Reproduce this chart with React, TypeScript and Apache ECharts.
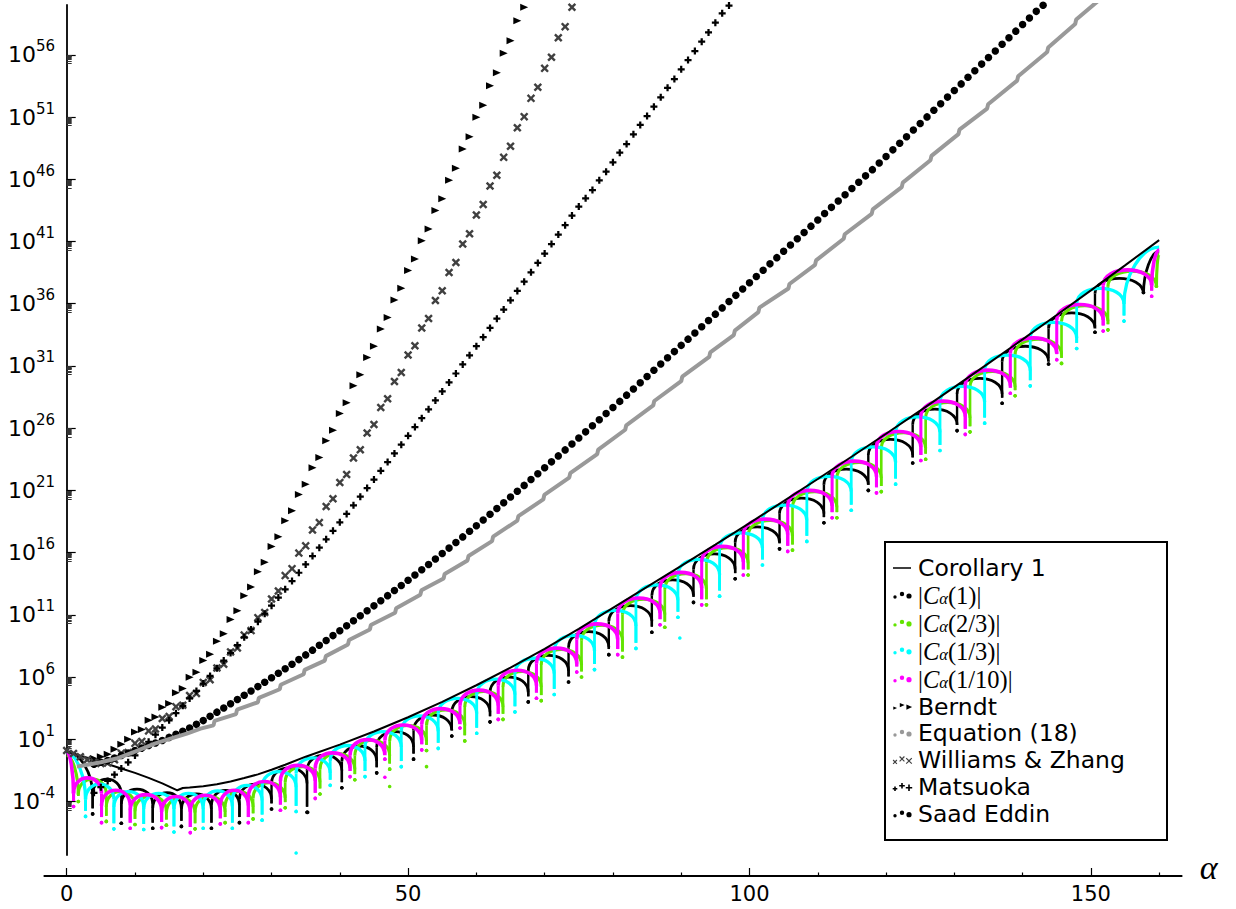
import React, { useEffect, useRef } from "react";
import * as echarts from "echarts";

// ---------------- axes ----------------
const X_MIN = -3.28;
const X_MAX = 163.3;
const Y_MIN = -8.3; // log10 exponent at bottom of y axis
const Y_MAX = 60; // log10 exponent at top
const ALPHA_END = 160;

const xMajorTicks = [0, 50, 100, 150];
const xMinorTicks = [10, 20, 30, 40, 60, 70, 80, 90, 110, 120, 130, 140, 160];
const yMajorTicks = [-4, 1, 6, 11, 16, 21, 26, 31, 36, 41, 46, 51, 56];
const yMinorFactors = [2, 3, 4, 5, 6, 7, 8, 9];

// ---------------- Corollary 1 (alpha, log10 value) ----------------
const corollaryAlpha = [0, 4, 8, 10, 12, 14, 16.2, 17, 18, 20, 22, 24, 26, 28, 30, 32, 35, 40, 45, 50, 55, 60, 65, 70, 75, 80, 85, 90, 95, 100, 105, 110, 115, 120, 125, 130, 135, 140, 145, 150, 155, 160];
const corollaryLog = [0.0, -0.65, -1.35, -1.7, -2.1, -2.55, -3.1, -2.92, -2.88, -2.78, -2.62, -2.4, -2.12, -1.82, -1.45, -1.05, -0.4, 0.57, 1.62, 2.77, 4.01, 5.34, 6.76, 8.27, 9.87, 11.56, 13.25, 14.93, 16.64, 18.37, 20.13, 21.91, 23.72, 25.55, 27.41, 29.29, 31.2, 33.13, 35.09, 37.07, 39.08, 41.11];

// ---------------- |C_alpha(x)| : zeros (dips), lowest dots, arch peaks ----------------
// |C_alpha(1)| black
const c1Start = 0.0;
const c1Dips = [3.8, 8.0, 12.6, 16.8, 21.2, 25.3, 30.0, 35.2, 40.3, 45.4, 50.8, 56.4, 62.0, 67.6, 73.5, 79.4, 85.7, 91.8, 97.9, 104.4, 110.9, 117.4, 123.9, 130.4, 137.0, 143.8, 150.6, 157.7];
const c1Bottoms = [-5.0, -5.75, -6.15, -6.0, -6.15, -5.7, -4.6, -4.87, -2.9, -1.7, -0.6, 1.26, 2.4, 4.0, 5.6, 7.8, 9.6, 12.0, 13.9, 16.3, 18.4, 21.0, 23.2, 25.8, 28.0, 31.15, 33.7, 36.9];
const c1Peaks = [-2.2, -3.0, -3.3, -3.4, -3.1, -2.6, -1.3, -0.28, 0.46, 1.62, 2.95, 4.42, 6.0, 7.74, 9.65, 11.73, 13.81, 15.89, 18.07, 20.37, 22.71, 25.09, 27.52, 30.0, 32.58, 35.26, 38.04];
const c1End = 40.2;

// |C_alpha(2/3)| green
const c23Start = -0.3;
const c23Dips = [1.7, 5.8, 10.0, 14.6, 18.8, 23.2, 27.3, 32.0, 37.1, 42.2, 47.3, 52.7, 58.3, 63.9, 69.5, 75.4, 81.4, 87.6, 93.7, 99.8, 106.3, 112.8, 119.3, 125.8, 132.3, 138.9, 145.7, 152.5, 159.6];
const c23Bottoms = [-4.0, -5.6, -5.85, -5.9, -6.2, -5.7, -5.4, -4.5, -3.4, -2.25, -1.4, 0.1, 0.87, 2.6, 4.1, 6.0, 7.6, 10.0, 11.8, 14.2, 16.2, 18.8, 20.9, 23.5, 25.7, 28.6, 31.2, 33.9, 37.4];
const c23Peaks = [-2.2, -3.2, -3.55, -3.7, -3.6, -3.2, -2.5, -1.2, -0.15, 0.92, 2.1, 3.36, 4.85, 6.45, 8.22, 10.17, 12.25, 14.31, 16.4, 18.59, 20.9, 23.25, 25.63, 28.07, 30.56, 33.15, 35.83, 38.62];
const c23End = 40.0;

// |C_alpha(1/3)| cyan
const c13Start = -0.1;
const c13Dips = [2.76, 6.91, 11.28, 15.71, 19.99, 24.26, 28.62, 33.6, 38.59, 43.69, 49.0, 54.41, 60.05, 65.65, 71.4, 77.3, 83.37, 89.52, 95.62, 101.9, 108.4, 114.9, 121.4, 127.9, 134.44, 141.12, 147.92, 154.85];
const c13Bottoms = [-5.2, -6.2, -6.25, -6.45, -6.15, -6.15, -5.5, -4.8, -2.7, -2.0, -1.2, 0.27, 1.48, 3.2, 4.6, 6.6, 8.3, 10.8, 12.5, 15.0, 16.9, 19.4, 21.5, 24.2, 26.4, 29.4, 32.4, 34.6];
const c13Peaks = [-2.6, -3.2, -3.35, -3.35, -3.15, -2.7, -1.6, -0.49, 0.5, 1.62, 2.88, 4.29, 5.83, 7.51, 9.35, 11.36, 13.4, 15.46, 17.59, 19.82, 22.13, 24.49, 26.9, 29.35, 31.87, 34.5, 37.23];
const c13End = 40.55;

// |C_alpha(1/10)| magenta
const c110Start = 0.0;
const c110Dips = [1.0, 5.1, 9.3, 13.9, 18.1, 22.5, 26.6, 31.3, 36.4, 41.5, 46.6, 52.0, 57.6, 63.2, 68.8, 74.7, 80.7, 86.9, 93.0, 99.1, 105.6, 112.1, 118.6, 125.1, 131.6, 138.2, 145.0, 151.8, 158.9];
const c110Bottoms = [-4.4, -5.7, -6.15, -6.1, -6.5, -5.8, -5.7, -4.7, -3.75, -2.0, -0.6, 0.15, 1.9, 2.6, 4.3, 6.4, 7.8, 10.2, 11.8, 14.2, 16.1, 18.8, 20.8, 23.4, 25.5, 28.8, 31.5, 33.8, 36.6];
const c110Peaks = [-2.1, -3.1, -3.45, -3.6, -3.5, -3.1, -2.4, -1.1, -0.09, 0.97, 2.15, 3.46, 4.95, 6.55, 8.32, 10.27, 12.35, 14.41, 16.5, 18.69, 21.0, 23.35, 25.73, 28.17, 30.66, 33.25, 35.93, 38.72];
const c110End = 40.3;

// isolated far-off dots (alpha, log10)
const c1Stray = [[35.3, -4.87]];
const c23Stray = [[47.3, -2.8], [52.7, -1.2]];
const c13Stray = [[33.6, -8.14], [89.8, 9.14]];
const c110Stray = [[46.6, -2.05]];

// ---------------- bounds sampled at integer alpha ----------------
const berndtFirstAlpha = 4;
const berndtLog = [-0.55, -0.4, -0.2, 0.2, 0.6, 1.0, 1.58, 1.78, 2.53, 2.78, 3.58, 3.88, 4.73, 5.08, 5.98, 6.38, 7.33, 7.83, 8.88, 9.48, 10.63, 11.33, 12.53, 13.24, 14.47, 15.22, 16.49, 17.27, 18.56, 19.36, 20.67, 21.49, 22.81, 23.64, 24.98, 25.83, 27.18, 28.04, 29.41, 30.29, 31.68, 32.57, 33.97, 34.88, 36.3, 37.23, 38.66, 39.6, 41.05, 42.01, 43.48, 44.44, 45.91, 46.88, 48.43, 49.42, 50.98, 51.94, 53.52, 54.56, 56.12, 57.13, 58.74, 59.82];

const wzFirstAlpha = 0;
const wzLog = [0.1, -0.15, -0.4, -0.65, -0.85, -0.95, -0.9, -0.65, -0.13, -0.07, 0.67, 0.83, 1.67, 1.83, 2.67, 2.83, 3.62, 3.73, 4.52, 4.68, 5.57, 5.78, 6.72, 7.03, 8.02, 8.33, 9.37, 9.73, 10.77, 11.18, 12.27, 12.91, 14.15, 14.71, 15.96, 16.54, 17.81, 18.41, 19.7, 20.32, 21.63, 22.27, 23.6, 24.26, 25.61, 26.29, 27.66, 28.36, 29.75, 30.47, 31.88, 32.62, 34.05, 34.81, 36.26, 37.04, 38.51, 39.31, 40.8, 41.62, 43.13, 43.97, 45.46, 46.32, 47.76, 48.65, 50.14, 51.03, 52.5, 53.39, 54.91, 55.8, 57.37, 58.26, 59.82];

const matsuokaFirstAlpha = 4;
const matsuokaLog = [-3.3, -2.85, -2.35, -1.85, -1.35, -0.85, -0.3, 0.25, 0.8, 1.37, 1.94, 2.52, 3.1, 3.69, 4.28, 4.88, 5.48, 6.09, 6.7, 7.32, 7.94, 8.56, 9.19, 9.82, 10.45, 11.09, 11.73, 12.39, 13.05, 13.71, 14.38, 15.05, 15.72, 16.39, 17.07, 17.75, 18.43, 19.11, 19.8, 20.49, 21.18, 21.87, 22.57, 23.27, 23.97, 24.67, 25.38, 26.09, 26.8, 27.51, 28.23, 28.95, 29.67, 30.39, 31.12, 31.85, 32.58, 33.31, 34.05, 34.79, 35.53, 36.27, 37.02, 37.77, 38.52, 39.27, 40.03, 40.79, 41.55, 42.31, 43.08, 43.8, 44.47, 45.13, 45.91, 46.61, 47.36, 48.13, 48.83, 49.61, 50.36, 51.08, 51.83, 52.58, 53.35, 54.05, 54.83, 55.58, 56.3, 57.05, 57.8, 58.58, 59.33, 59.95];

const saadFirstAlpha = 4;
const saadLog = [-1.0, -0.85, -0.7, -0.5, -0.3, -0.1, 0.1, 0.3, 0.5, 0.7, 0.9, 1.15, 1.4, 1.65, 1.9, 2.2, 2.5, 2.84, 3.18, 3.51, 3.85, 4.19, 4.53, 4.88, 5.23, 5.58, 5.94, 6.3, 6.66, 7.03, 7.4, 7.78, 8.16, 8.55, 8.94, 9.33, 9.72, 10.12, 10.52, 10.92, 11.32, 11.72, 12.13, 12.54, 12.95, 13.36, 13.78, 14.2, 14.62, 15.04, 15.48, 15.92, 16.36, 16.81, 17.26, 17.71, 18.16, 18.62, 19.08, 19.54, 20.0, 20.46, 20.93, 21.4, 21.87, 22.34, 22.81, 23.29, 23.77, 24.25, 24.73, 25.21, 25.7, 26.19, 26.68, 27.17, 27.66, 28.15, 28.65, 29.15, 29.65, 30.15, 30.65, 31.15, 31.65, 32.15, 32.65, 33.15, 33.65, 34.15, 34.65, 35.16, 35.66, 36.17, 36.67, 37.18, 37.68, 38.19, 38.69, 39.2, 39.7, 40.21, 40.71, 41.22, 41.72, 42.23, 42.73, 43.24, 43.74, 44.25, 44.75, 45.26, 45.76, 46.27, 46.77, 47.3, 47.83, 48.36, 48.89, 49.42, 49.95, 50.48, 51.01, 51.54, 52.07, 52.6, 53.13, 53.66, 54.19, 54.72, 55.25, 55.78, 56.31, 56.84, 57.37, 57.9, 58.43, 58.96, 59.49, 59.98];

// Equation (18): dense samples, read as a stepped curve
const eq18Alpha = [1.5, 3, 5, 7.3, 10, 12.9, 15.2, 17.6, 19.6, 21.5, 21.65, 24.8, 24.95, 28.0, 28.15, 31.2, 31.35, 34.7, 34.85, 37.8, 37.95, 41.2, 41.35, 44.4, 44.55, 48.1, 48.25, 51.8, 51.95, 55.2, 55.35, 58.7, 58.85, 62.3, 62.45, 66.0, 66.15, 69.8, 69.95, 73.6, 73.75, 77.7, 77.85, 81.8, 81.95, 85.9, 86.05, 90.0, 90.15, 94.1, 94.25, 97.7, 97.85, 101.3, 101.45, 105.7, 105.85, 109.6, 109.75, 113.8, 113.95, 117.9, 118.05, 122.3, 122.45, 126.5, 126.65, 130.6, 130.75, 134.8, 134.95, 139.2, 139.35, 143.6, 143.75, 147.7, 147.85, 151.9];
const eq18Log = [-1.2, -1.05, -0.85, -0.55, 0.0, 0.65, 1.05, 1.45, 1.85, 2.12, 2.48, 3.02, 3.38, 3.97, 4.33, 5.02, 5.38, 6.22, 6.58, 7.32, 7.68, 8.62, 8.98, 9.82, 10.18, 11.17, 11.53, 12.62, 12.98, 13.92, 14.28, 15.37, 15.73, 16.92, 17.28, 18.57, 18.93, 20.27, 20.63, 22.02, 22.38, 23.92, 24.28, 25.87, 26.23, 27.82, 28.18, 29.77, 30.13, 31.72, 32.08, 33.47, 33.83, 35.32, 35.68, 37.22, 37.58, 39.12, 39.48, 41.22, 41.58, 43.22, 43.58, 45.37, 45.73, 47.52, 47.88, 49.62, 49.98, 51.67, 52.03, 53.92, 54.28, 56.22, 56.58, 58.47, 58.83, 60.72];

// ---------------- colours ----------------
const BLACK = "#000000";
const GREEN = "#62e400";
const CYAN = "#00ffff";
const MAGENTA = "#ff00ff";
const GRAY = "#999999";
const DARKGRAY = "#404040";

// ---------------- helpers ----------------
const ARCH_DROP = 1.25;
const DOT_GAP = 0.45;

function intSeries(first: number, vals: number[]) {
  return vals.map((v, i) => [first + i, v]);
}
function pairs(a: number[], v: number[]) {
  return a.map((x, i) => [x, v[i]]);
}
function archItems(start: number, dips: number[], bottoms: number[], peaks: number[], end: number) {
  const items: number[][] = [];
  items.push([0, dips[0], start, 0, bottoms[0], 1, peaks[0]]);
  for (let i = 0; i < dips.length - 1; i++) {
    items.push([dips[i], dips[i + 1], peaks[i], bottoms[i], bottoms[i + 1], 0, 0]);
  }
  const n = dips.length;
  items.push([dips[n - 1], ALPHA_END, end, bottoms[n - 1], 0, 2, peaks[peaks.length - 1]]);
  return items;
}
function archRenderer(color: string, lw: number) {
  return (_params: any, api: any) => {
    const d0 = api.value(0), d1 = api.value(1), p = api.value(2);
    const b0 = api.value(3), b1 = api.value(4), kind = api.value(5), nb = api.value(6);
    const c = (a: number, v: number) => api.coord([a, v]);
    const kids: any[] = [];
    const st = { stroke: color, lineWidth: lw, fill: "none" };
    let leftTop = p - ARCH_DROP;
    let rightTop = p - ARCH_DROP;
    let s, e, k1, k2;
    if (kind === 0) {
      s = c(d0, p - ARCH_DROP); e = c(d1, p - ARCH_DROP);
      k1 = c(d0, p + ARCH_DROP / 3); k2 = c(d1, p + ARCH_DROP / 3);
    } else if (kind === 1) {
      const lvl = nb - ARCH_DROP;
      s = c(d0, p); e = c(d1, lvl);
      k1 = c(d0 + 0.5 * (d1 - d0), p); k2 = c(d1, (p + lvl) / 2);
      rightTop = lvl;
    } else {
      const lvl = nb - ARCH_DROP;
      s = c(d0, lvl); e = c(d1, p);
      k1 = c(d0, (p + lvl) / 2); k2 = c(d0 + 0.5 * (d1 - d0), p);
      leftTop = lvl;
    }
    kids.push({ type: "bezierCurve", shape: { x1: s[0], y1: s[1], x2: e[0], y2: e[1], cpx1: k1[0], cpy1: k1[1], cpx2: k2[0], cpy2: k2[1] }, style: st });
    const stem = (a: number, top: number, b: number) => {
      if (b + DOT_GAP < top) {
        const t = c(a, top), u = c(a, b + DOT_GAP);
        kids.push({ type: "line", shape: { x1: t[0], y1: t[1], x2: u[0], y2: u[1] }, style: { stroke: color, lineWidth: lw * 0.85 } });
      }
      const q = c(a, b);
      kids.push({ type: "circle", shape: { cx: q[0], cy: q[1], r: 1.8 }, style: { fill: color } });
    };
    if (kind !== 1) stem(d0, leftTop, b0);
    if (kind !== 2) stem(d1, rightTop, b1);
    return { type: "group", children: kids };
  };
}

// symbols
const X_SYMBOL = "path://M0,2 L2,0 L5,3 L8,0 L10,2 L7,5 L10,8 L8,10 L5,7 L2,10 L0,8 L3,5 Z";
const PLUS_SYMBOL = "path://M3.4,0 H6.6 V3.4 H10 V6.6 H6.6 V10 H3.4 V6.6 H0 V3.4 H3.4 Z";

// legend icons (22 x 14 box)
const SPECK = "M0,0 h0.02 v0.02 h-0.02 Z M21.98,13.98 h0.02 v0.02 h-0.02 Z ";
const ICON_PTS = [[4, 8.6, 1.7], [11, 5.6, 2.2], [18, 7.6, 2.6]];
const circ = (cx: number, cy: number, r: number) => `M${cx - r},${cy} a${r},${r} 0 1,0 ${2 * r},0 a${r},${r} 0 1,0 ${-2 * r},0 Z `;
const tri = (cx: number, cy: number, r: number) => `M${cx - r},${cy - r} L${cx + 1.2 * r},${cy} L${cx - r},${cy + r} Z `;
const xs = (cx: number, cy: number, r: number) => { const h = r + 0.6, k = 0.8; return `M${cx - h},${cy - h + k} L${cx - h + k},${cy - h} L${cx},${cy - k} L${cx + h - k},${cy - h} L${cx + h},${cy - h + k} L${cx + k},${cy} L${cx + h},${cy + h - k} L${cx + h - k},${cy + h} L${cx},${cy + k} L${cx - h + k},${cy + h} L${cx - h},${cy + h - k} L${cx - k},${cy} Z `; };
const pl = (cx: number, cy: number, r: number) => { const h = r + 0.6, t = 0.8; return `M${cx - t},${cy - h} H${cx + t} V${cy - t} H${cx + h} V${cy + t} H${cx + t} V${cy + h} H${cx - t} V${cy + t} H${cx - h} V${cy - t} H${cx - t} Z `; };
const icon = (f: (a: number, b: number, c: number) => string) => "path://" + SPECK + ICON_PTS.map(([a, b, r]) => f(a, b, r)).join("");
const DOTS_ICON = icon(circ);
const TRI_ICON = icon(tri);
const X_ICON = icon(xs);
const PLUS_ICON = icon(pl);
const LINE_ICON = "path://" + SPECK + "M2,6.2 H20 V7.8 H2 Z";

const N_COR = "Corollary 1";
const N_C1 = "|Cα(1)|";
const N_C23 = "|Cα(2/3)|";
const N_C13 = "|Cα(1/3)|";
const N_C110 = "|Cα(1/10)|";
const N_BER = "Berndt";
const N_EQ = "Equation (18)";
const N_WZ = "Williams & Zhang";
const N_MAT = "Matsuoka";
const N_SAAD = "Saad Eddin";

const GRID_LEFT = 44.3;
const Y_LABEL_RIGHT = 55; // right edge of the y tick labels

function buildOption(): any {
  const yMinorTicks: number[] = [];
  yMajorTicks.forEach((t) => yMinorFactors.forEach((k) => yMinorTicks.push(t - 1 + Math.log10(k))));
  const customBase = { type: "custom", clip: true, silent: true, encode: { x: 0, y: 2 } };
  const stray = (data: number[][], color: string) => ({ type: "scatter", name: "stray", data, symbol: "circle", symbolSize: 3.6, itemStyle: { color, opacity: 1 }, silent: true, clip: true });
  return {
    animation: false,
    backgroundColor: "#ffffff",
    textStyle: { fontFamily: "DejaVu Sans" },
    grid: { left: GRID_LEFT, top: 5, width: 1137.4, height: 850, containLabel: false, outerBoundsMode: "none" },
    xAxis: [
      {
        type: "value", min: X_MIN, max: X_MAX, position: "bottom", offset: 21,
        axisLine: { show: true, onZero: false, lineStyle: { color: BLACK, width: 1.8 } },
        axisTick: { show: true, inside: true, length: 8, customValues: xMajorTicks, lineStyle: { color: BLACK, width: 1.2 } },
        axisLabel: { show: true, customValues: xMajorTicks, fontSize: 21, margin: 7, color: BLACK, fontFamily: "DejaVu Sans" },
        splitLine: { show: false },
        name: "α", nameLocation: "end", nameGap: 18,
        nameTextStyle: { fontFamily: "Liberation Serif", fontStyle: "italic", fontSize: 34, color: BLACK, lineHeight: 18, verticalAlign: "bottom", align: "left" },
      },
      {
        type: "value", min: X_MIN, max: X_MAX, position: "bottom", offset: 21,
        axisLine: { show: false, onZero: false },
        axisTick: { show: true, inside: true, length: 3.5, customValues: xMinorTicks, lineStyle: { color: BLACK, width: 1.2 } },
        axisLabel: { show: false }, splitLine: { show: false },
      },
    ],
    yAxis: [
      {
        type: "value", min: Y_MIN, max: Y_MAX, position: "left",
        axisLine: { show: true, onZero: true, lineStyle: { color: BLACK, width: 1.8 } },
        axisTick: { show: true, inside: true, length: 9, customValues: yMajorTicks, lineStyle: { color: BLACK, width: 1.2 } },
        axisLabel: {
          show: true, customValues: yMajorTicks, margin: GRID_LEFT - Y_LABEL_RIGHT, color: BLACK,
          formatter: (v: number) => `{b|10}{s|${v}}`,
          rich: {
            b: { fontFamily: "DejaVu Sans", fontSize: 22, lineHeight: 32, color: BLACK },
            s: { fontFamily: "DejaVu Sans", fontSize: 15, lineHeight: 16, verticalAlign: "top", color: BLACK },
          },
        },
        splitLine: { show: false },
      },
      {
        type: "value", min: Y_MIN, max: Y_MAX, position: "left",
        axisLine: { show: false, onZero: true },
        axisTick: { show: true, inside: true, length: 5, customValues: yMinorTicks, lineStyle: { color: "#333333", width: 1 } },
        axisLabel: { show: false }, splitLine: { show: false },
      },
    ],
    legend: {
      show: true, orient: "vertical", left: 891, top: 556, itemWidth: 22, itemHeight: 14, itemGap: 2.9,
      selectedMode: false, padding: 0, z: 10,
      itemStyle: { borderWidth: 0 },
      textStyle: {
        fontFamily: "DejaVu Sans", fontSize: 23.5, color: BLACK, lineHeight: 24,
        rich: {
          m: { fontFamily: "Liberation Serif", fontSize: 24.5, lineHeight: 24, color: BLACK },
          i: { fontFamily: "Liberation Serif", fontStyle: "italic", fontSize: 24.5, lineHeight: 24, color: BLACK },
          s: { fontFamily: "Liberation Serif", fontStyle: "italic", fontSize: 16.5, lineHeight: 11, verticalAlign: "bottom", color: BLACK },
        },
      },
      formatter: (name: string) => (name.indexOf("|C") === 0 ? `{m||}{i|C}{s|α}{m|(${name.slice(4, -2)})|}` : name),
      data: [
        { name: N_COR, icon: LINE_ICON },
        { name: N_C1, icon: DOTS_ICON },
        { name: N_C23, icon: DOTS_ICON },
        { name: N_C13, icon: DOTS_ICON },
        { name: N_C110, icon: DOTS_ICON },
        { name: N_BER, icon: TRI_ICON },
        { name: N_EQ, icon: DOTS_ICON },
        { name: N_WZ, icon: X_ICON },
        { name: N_MAT, icon: PLUS_ICON },
        { name: N_SAAD, icon: DOTS_ICON },
      ],
    },
    graphic: [
      { type: "rect", z: 3, shape: { x: 885, y: 542, width: 282, height: 298 }, style: { fill: "#ffffff", stroke: BLACK, lineWidth: 2 } },
    ],
    series: [
      { type: "line", name: N_COR, data: pairs(corollaryAlpha, corollaryLog), showSymbol: false, symbol: "none", color: BLACK, lineStyle: { color: BLACK, width: 2 }, itemStyle: { color: BLACK }, clip: true, silent: true, z: 2 },
      { ...customBase, name: N_C1, itemStyle: { color: BLACK }, renderItem: archRenderer(BLACK, 2.8), data: archItems(c1Start, c1Dips, c1Bottoms, c1Peaks, c1End) },
      { ...customBase, name: N_C23, itemStyle: { color: GREEN }, renderItem: archRenderer(GREEN, 3.1), data: archItems(c23Start, c23Dips, c23Bottoms, c23Peaks, c23End) },
      { ...customBase, name: N_C13, itemStyle: { color: CYAN }, renderItem: archRenderer(CYAN, 3.3), data: archItems(c13Start, c13Dips, c13Bottoms, c13Peaks, c13End) },
      { ...customBase, name: N_C110, itemStyle: { color: MAGENTA }, renderItem: archRenderer(MAGENTA, 3.6), data: archItems(c110Start, c110Dips, c110Bottoms, c110Peaks, c110End) },
      stray(c1Stray, BLACK),
      stray(c23Stray, GREEN),
      stray(c13Stray, CYAN),
      stray(c110Stray, MAGENTA),
      { type: "scatter", name: N_BER, data: intSeries(berndtFirstAlpha, berndtLog), symbol: "triangle", symbolRotate: -90, symbolSize: [7, 8], itemStyle: { color: BLACK, opacity: 1 }, clip: true, silent: true },
      { type: "line", name: N_EQ, data: pairs(eq18Alpha, eq18Log), showSymbol: false, symbol: "none", color: GRAY, lineStyle: { color: GRAY, width: 4 }, itemStyle: { color: GRAY }, clip: true, silent: true },
      { type: "scatter", name: N_WZ, data: intSeries(wzFirstAlpha, wzLog), symbol: X_SYMBOL, symbolSize: 8.5, itemStyle: { color: DARKGRAY, opacity: 1 }, clip: true, silent: true },
      { type: "scatter", name: N_MAT, data: intSeries(matsuokaFirstAlpha, matsuokaLog), symbol: PLUS_SYMBOL, symbolSize: 7, itemStyle: { color: BLACK, opacity: 1 }, clip: true, silent: true },
      { type: "scatter", name: N_SAAD, data: intSeries(saadFirstAlpha, saadLog), symbol: "circle", symbolSize: 7.5, itemStyle: { color: BLACK, opacity: 1 }, clip: true, silent: true },
    ],
  };
}

export default function App() {
  const ref = useRef<HTMLDivElement>(null);
  useEffect(() => {
    if (!ref.current) return;
    const chart = echarts.init(ref.current, undefined, { renderer: "svg" });
    chart.setOption(buildOption());
    return () => chart.dispose();
  }, []);
  return <div ref={ref} style={{ position: "fixed", left: 0, top: 0, width: 1236, height: 909, background: "#ffffff" }} />;
}
